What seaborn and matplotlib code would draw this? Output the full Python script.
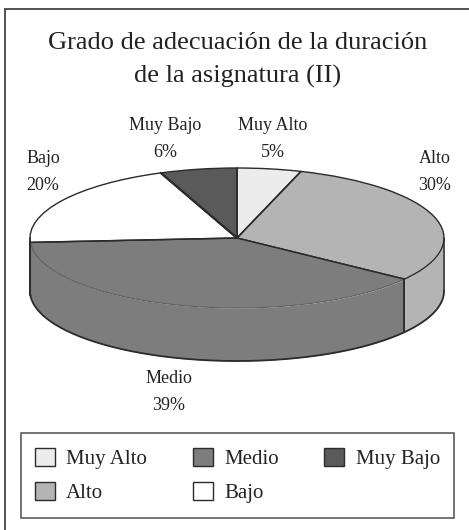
import numpy as np
import matplotlib
matplotlib.use('Agg')
import matplotlib.pyplot as plt
from matplotlib.lines import Line2D
from matplotlib.patches import Patch
import seaborn as sns

categories = ['Muy Alto', 'Alto', 'Medio', 'Bajo', 'Muy Bajo']
values = [5, 30, 39, 20, 6]
grey_levels = ['#ececec', '#b4b4b4', '#7d7d7d', '#ffffff', '#5a5a5a']
title_lines = 'Grado de adecuación de la duración\nde la asignatura (II)'

W, H = 469, 530
CX, CY, RX, RY, DEPTH = 237, 238, 207, 70, 53
EDGE = '#2b2b2b'

sns.set_theme(style='white')
plt.rcParams['font.family'] = ['Liberation Serif', 'DejaVu Serif']
palette = sns.color_palette(grey_levels)

fig = plt.figure(figsize=(W / 100, H / 100), dpi=100)
ax = fig.add_axes([0, 0, 1, 1])

# side wall first: only the front half of the disc is visible
depth = DEPTH / RY
ends = np.cumsum(values) / np.sum(values) * 360
starts = np.r_[0, ends[:-1]]
for start, end, col in zip(starts, ends, palette):
    a, b = max(start, 90), min(end, 270)
    if a >= b:
        continue
    t = np.radians(np.linspace(a, b, 200))
    xs = np.sin(t)
    ax.fill_between(xs, np.cos(t), np.cos(t) - depth, color=col, lw=0)
    ax.plot(xs, np.cos(t) - depth, c=EDGE, lw=1.3)
    for x0, y0 in [(xs[0], np.cos(t[0])), (xs[-1], np.cos(t[-1]))]:
        ax.plot([x0, x0], [y0, y0 - depth], c=EDGE, lw=1.1)

wedges, _ = ax.pie(values, colors=palette, startangle=90, counterclock=False,
                   wedgeprops={'edgecolor': EDGE, 'linewidth': 1.0})
wedges[2].set_edgecolor('#5f5f5f')
wedges[2].set_linewidth(0.8)

# radii drawn again so the thin Medio edge does not cover them
for ang in ends:
    t = np.radians(ang)
    ax.plot([0, np.sin(t)], [0, np.cos(t)], c=EDGE, lw=1.1)
ax.plot([0, np.sin(np.radians(ends[3]))], [0, np.cos(np.radians(ends[3]))], c=EDGE, lw=1.6)

# squash the round pie into the perspective ellipse
ax.set_aspect('auto')
ax.set_xlim(-CX / RX, (W - CX) / RX)
ax.set_ylim(-(H - CY) / RY, CY / RY)
ax.axis('off')


def px(x, y):
    return x / W, 1 - y / H


# the scan only shows the left and top sides of the outer frame
for p0, p1 in [((5, 530), (5, 9)), ((5, 9), (469, 9))]:
    a0, a1 = px(*p0), px(*p1)
    fig.add_artist(Line2D([a0[0], a1[0]], [a0[1], a1[1]], transform=fig.transFigure,
                          c='#444444', lw=1.3))

fig.text(*px(238, 60), title_lines, ha='center', va='center', fontsize=19,
         linespacing=1.6, color='#222222')

label_pos = {'Muy Alto': (273, 139), 'Alto': (435, 172), 'Medio': (169, 392),
             'Bajo': (43, 172), 'Muy Bajo': (165, 139)}
for name, val in zip(categories, values):
    fig.text(*px(*label_pos[name]), f'{name}\n{val}%', ha='center', va='center',
             fontsize=13, linespacing=1.75, color='#222222')

handles = [Patch(facecolor=c, edgecolor=EDGE, lw=1.0) for c in palette]
leg = ax.legend(handles, categories, ncol=3, loc='center',
                bbox_to_anchor=px(237.5, 475.5), bbox_transform=fig.transFigure,
                fontsize=15, frameon=True, fancybox=False, edgecolor='#333333',
                handlelength=0.96, handleheight=0.96, handletextpad=0.53,
                columnspacing=2.2, labelspacing=0.65, borderpad=0.68,
                borderaxespad=0, labelcolor='#222222')
leg.get_frame().set_linewidth(1.2)

fig.savefig('out.png', dpi=100)
